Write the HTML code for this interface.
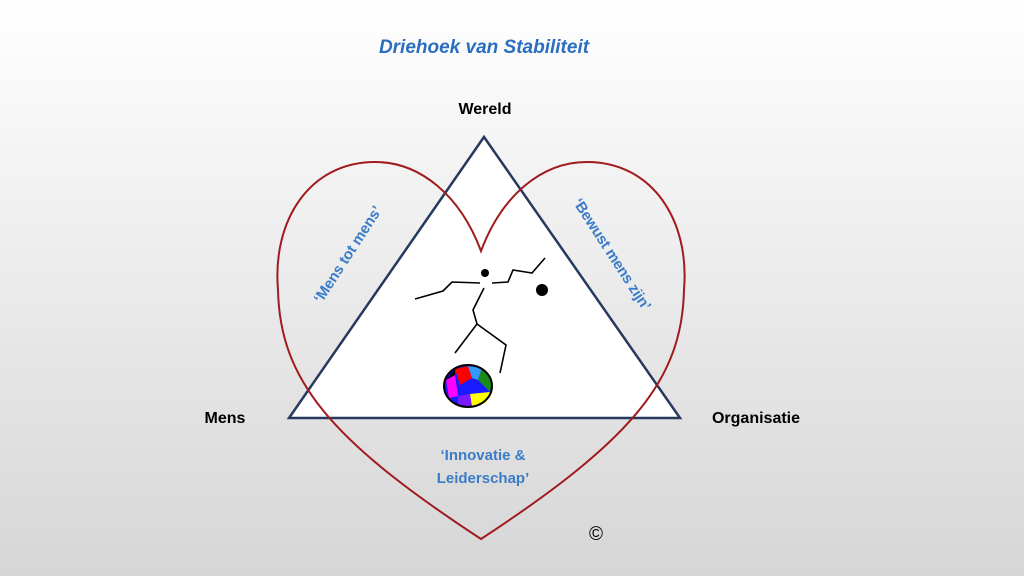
<!DOCTYPE html>
<html><head><meta charset="utf-8"><style>
body{margin:0;width:1024px;height:576px;overflow:hidden;background:linear-gradient(#ffffff,#d6d6d6);font-family:"Liberation Sans",sans-serif;}
</style></head><body>
<svg width="1024" height="576" viewBox="0 0 1024 576" xmlns="http://www.w3.org/2000/svg" style="position:absolute;left:0;top:0">
<polygon points="484,137 289,418 680,418" fill="#fff" stroke="#253a5e" stroke-width="2.5"/>
<path d="M481,251 C460,195 420,162 375,162 C310,162 272,220 278,290 C280,380 330,440 481,539 C632,440 682,380 684,290 C690,220 652,162 587,162 C542,162 502,195 481,251 Z" fill="none" stroke="#a01a1e" stroke-width="2"/>
<g stroke="#000" stroke-width="1.6" fill="none">
<polyline points="415,299 443,291 452,282 480,283"/>
<polyline points="492,283 508,282 513,270 532,273 545,258"/>
<polyline points="484,288 473,310 477,324 455,353"/>
<polyline points="477,324 506,345 500,373"/>
</g>
<circle cx="485" cy="273" r="4" fill="#000"/>
<circle cx="542" cy="290" r="6" fill="#000"/>
<g>
<ellipse cx="468" cy="386" rx="24" ry="21" fill="#1a1aff"/>
<path d="M455,369 L468,366 L472,378 L460,385 Z" fill="#f00"/>
<path d="M468,366 L482,368 L478,380 L472,378Z" fill="#3399ff"/>
<path d="M478,380 L482,368 L492,380 L490,392 Z" fill="#1a8a1a"/>
<path d="M490,392 L486,403 L472,407 L470,394 Z" fill="#ffff00"/>
<path d="M446,380 L455,375 L458,396 L449,398 Z" fill="#ff00ff"/>
<path d="M458,396 L470,394 L472,407 L458,404 Z" fill="#7a1aff"/>
<path d="M455,369 L446,380 L455,375 Z" fill="#000"/>
<ellipse cx="468" cy="386" rx="24" ry="21" fill="none" stroke="#000" stroke-width="2"/>
</g>
<text x="484" y="53" text-anchor="middle" font-size="19" font-weight="bold" font-style="italic" fill="#2a6ec0">Driehoek van Stabiliteit</text>
<text x="485" y="114" text-anchor="middle" font-size="16" font-weight="bold" fill="#000">Wereld</text>
<text x="225" y="423" text-anchor="middle" font-size="16" font-weight="bold" fill="#000">Mens</text>
<text x="756" y="423" text-anchor="middle" font-size="16" font-weight="bold" fill="#000">Organisatie</text>
<text transform="translate(352,257) rotate(-57)" text-anchor="middle" font-size="15" font-weight="bold" fill="#3a7cc8" textLength="112">‘Mens tot mens’</text>
<text transform="translate(608,257) rotate(57)" text-anchor="middle" font-size="15" font-weight="bold" fill="#3a7cc8" textLength="130">‘Bewust mens zijn’</text>
<text x="483" y="460" text-anchor="middle" font-size="15" font-weight="bold" fill="#3a7cc8">‘Innovatie &amp;</text>
<text x="483" y="483" text-anchor="middle" font-size="15" font-weight="bold" fill="#3a7cc8">Leiderschap’</text>
<text x="596" y="540" text-anchor="middle" font-size="19" fill="#000">©</text>
</svg>
</body></html>
